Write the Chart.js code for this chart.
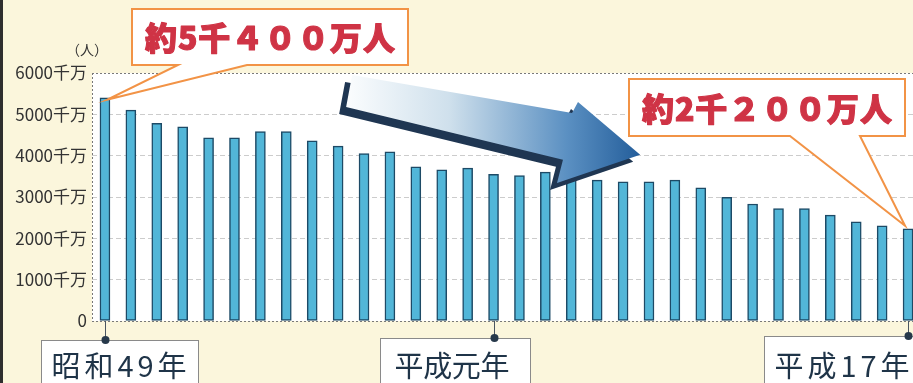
<!DOCTYPE html>
<html lang="ja">
<head>
<meta charset="utf-8">
<title>人数の推移</title>
<script src="https://cdn.jsdelivr.net/npm/chart.js@4.4.1/dist/chart.umd.min.js"></script>
<style>
    html, body { margin: 0; padding: 0; overflow: hidden; background: #fbf6dc; }
    #wrap { position: relative; width: 922px; height: 383px; }
</style>
</head>
<body>
<div id="wrap"><canvas id="chart" width="922" height="383"></canvas></div>
<script>
const categories = [
    '昭和49年', '昭和50年', '昭和51年', '昭和52年', '昭和53年', '昭和54年', '昭和55年', '昭和56年',
    '昭和57年', '昭和58年', '昭和59年', '昭和60年', '昭和61年', '昭和62年', '昭和63年',
    '平成元年', '平成2年', '平成3年', '平成4年', '平成5年', '平成6年', '平成7年', '平成8年',
    '平成9年', '平成10年', '平成11年', '平成12年', '平成13年', '平成14年', '平成15年', '平成16年', '平成17年'
];

// 万人
const people = [
    5400, 5100, 4780, 4700, 4430, 4430, 4580, 4580,
    4360, 4230, 4050, 4090, 3730, 3660, 3700,
    3550, 3520, 3600, 3500, 3410, 3370, 3370, 3410,
    3220, 2990, 2830, 2720, 2720, 2560, 2400, 2300, 2230
];

const yTickValues = [0, 1000, 2000, 3000, 4000, 5000, 6000];
const yTickLabels = ['0', '1000千万', '2000千万', '3000千万', '4000千万', '5000千万', '6000千万'];
const yUnit = '（人）';

const markedYears = ['昭和49年', '平成元年', '平成17年'];
const callouts = ['約5千４００万人', '約2千２００万人'];

const FONT = '"Noto Sans CJK JP", "Noto Sans", sans-serif';

function spreadText(ctx, text, x, y, width, outline) {
    const chars = Array.from(text);
    const widths = chars.map(c => ctx.measureText(c).width);
    const total = widths.reduce((a, b) => a + b, 0);
    const gap = chars.length > 1 ? (width - total) / (chars.length - 1) : 0;
    let cx = x;
    chars.forEach((c, i) => {
        if (outline) ctx.strokeText(c, cx, y);
        ctx.fillText(c, cx, y);
        cx += widths[i] + gap;
    });
}

const decorPlugin = {
    id: 'decor',
    beforeDraw(chart) {
        const { ctx, chartArea: a } = chart;
        ctx.save();
        ctx.fillStyle = '#fbf6dc';
        ctx.fillRect(0, 0, chart.width, chart.height);
        ctx.fillStyle = '#2e2e2e';
        ctx.fillRect(0, 0, 3, chart.height);
        ctx.fillStyle = '#ffffff';
        ctx.fillRect(a.left, a.top, a.right - a.left, a.bottom - a.top);
        ctx.restore();
    },
    beforeDatasetsDraw(chart) {
        const { ctx, chartArea: a } = chart;
        ctx.save();
        ctx.strokeStyle = '#777';
        ctx.lineWidth = 1;
        ctx.setLineDash([2, 2]);
        ctx.beginPath();
        ctx.moveTo(a.left + 0.5, a.top);
        ctx.lineTo(a.left + 0.5, a.bottom);
        ctx.stroke();
        ctx.restore();
    },
    afterDatasetsDraw(chart) {
        const { ctx, chartArea: a } = chart;
        const xs = chart.scales.x;
        const ys = chart.scales.y;
        const px = i => xs.getPixelForValue(i);
        const py = v => ys.getPixelForValue(v);

        // big downward arrow (decoration, placed in index/value space)
        const arrow = [[9.54, 5950], [18.03, 5030], [18.26, 5300], [20.66, 4020],
                       [17.45, 3340], [17.68, 3900], [9.31, 5180]];
        const pts = arrow.map(p => [px(p[0]), py(p[1])]);
        ctx.save();
        ctx.beginPath();
        pts.forEach((p, i) => i ? ctx.lineTo(p[0] - 7, p[1] + 7) : ctx.moveTo(p[0] - 7, p[1] + 7));
        ctx.closePath();
        ctx.fillStyle = '#1f3652';
        ctx.fill();
        const g = ctx.createLinearGradient(pts[6][0], 0, pts[3][0], 0);
        g.addColorStop(0, '#fbfdfe');
        g.addColorStop(0.35, '#cfe0ec');
        g.addColorStop(0.75, '#5b90c2');
        g.addColorStop(1, '#245e9b');
        ctx.beginPath();
        pts.forEach((p, i) => i ? ctx.lineTo(p[0], p[1]) : ctx.moveTo(p[0], p[1]));
        ctx.closePath();
        ctx.fillStyle = g;
        ctx.fill();
        ctx.restore();

        // callouts
        const boxes = [
            { x: 132, y: 9, w: 276, h: 56, p1: 178, p2: 247, tip: [px(0) + 2, py(people[0]) + 2] },
            { x: 629, y: 79, w: 276, h: 57, p1: 790, p2: 860, tip: [px(people.length - 1) - 3, py(people[people.length - 1]) - 3] }
        ];
        boxes.forEach((b, k) => {
            ctx.save();
            ctx.beginPath();
            ctx.moveTo(b.x, b.y);
            ctx.lineTo(b.x + b.w, b.y);
            ctx.lineTo(b.x + b.w, b.y + b.h);
            ctx.lineTo(b.p2, b.y + b.h);
            ctx.lineTo(b.tip[0], b.tip[1]);
            ctx.lineTo(b.p1, b.y + b.h);
            ctx.lineTo(b.x, b.y + b.h);
            ctx.closePath();
            ctx.fillStyle = '#ffffff';
            ctx.fill();
            ctx.strokeStyle = '#f29346';
            ctx.lineWidth = 2;
            ctx.lineJoin = 'miter';
            ctx.stroke();
            ctx.fillStyle = '#cf3345';
            ctx.strokeStyle = '#cf3345';
            ctx.lineWidth = 1.1;
            ctx.lineJoin = 'round';
            ctx.font = '900 32px ' + FONT;
            ctx.textBaseline = 'middle';
            ctx.textAlign = 'left';
            spreadText(ctx, callouts[k], b.x + 13, b.y + b.h / 2 + 1, 250, true);
            ctx.restore();
        });

        // x-axis year markers
        const marks = [
            { dx: -65, top: 340, w: 157, tx: 10, tw: 135 },
            { dx: -115, top: 338, w: 150, tx: 14, tw: 115 },
            { dx: -145, top: 336, w: 170, tx: 10, tw: 135 }
        ];
        markedYears.forEach((label, k) => {
            const idx = categories.indexOf(label);
            const x = Math.round(px(idx)) + 0.5;
            const m = marks[k];
            const left = Math.round(x + m.dx) + 0.5;
            ctx.save();
            ctx.fillStyle = '#ffffff';
            ctx.fillRect(left, m.top + 0.5, m.w, chart.height);
            ctx.strokeStyle = '#8a8a8a';
            ctx.lineWidth = 1;
            ctx.strokeRect(left, m.top + 0.5, m.w, chart.height);
            ctx.strokeStyle = '#4a5560';
            ctx.beginPath();
            ctx.moveTo(x, a.bottom);
            ctx.lineTo(x, m.top);
            ctx.stroke();
            ctx.fillStyle = '#27394b';
            ctx.beginPath();
            ctx.arc(x, m.top, 4, 0, Math.PI * 2);
            ctx.fill();
            ctx.fillStyle = '#1f3448';
            ctx.font = '29px ' + FONT;
            ctx.textBaseline = 'middle';
            ctx.textAlign = 'left';
            spreadText(ctx, label, left + m.tx, 366, m.tw);
            ctx.restore();
        });

        // unit label
        ctx.save();
        ctx.fillStyle = '#333';
        ctx.font = '14px ' + FONT;
        ctx.textAlign = 'center';
        ctx.textBaseline = 'middle';
        ctx.fillText(yUnit, 87, 50);
        ctx.restore();
    }
};

new Chart(document.getElementById('chart').getContext('2d'), {
    type: 'bar',
    data: {
        labels: categories,
        datasets: [{
            data: people,
            backgroundColor: '#52b6d8',
            borderColor: '#1d4a66',
            borderWidth: 1.5,
            borderSkipped: false,
            barThickness: 10
        }]
    },
    options: {
        responsive: false,
        animation: false,
        events: [],
        layout: { padding: { top: 73, bottom: 62, left: 0, right: 1 } },
        plugins: { legend: { display: false }, tooltip: { enabled: false } },
        scales: {
            x: { display: false },
            y: {
                min: 0,
                max: 6000,
                afterFit: scale => { scale.width = 92; },
                afterBuildTicks: scale => { scale.ticks = yTickValues.map(v => ({ value: v })); },
                ticks: {
                    padding: 5,
                    color: '#333',
                    font: { family: FONT, size: 17 },
                    callback: value => yTickLabels[yTickValues.indexOf(value)]
                },
                grid: {
                    drawTicks: false,
                    lineWidth: 1,
                    color: c => (c.tick.value === 0 || c.tick.value === 6000) ? '#7a7a7a' : '#cccccc'
                },
                border: {
                    display: false,
                    dash: c => (c.tick && (c.tick.value === 0 || c.tick.value === 6000)) ? [2, 2] : [5, 3]
                }
            }
        }
    },
    plugins: [decorPlugin]
});
</script>
</body>
</html>
